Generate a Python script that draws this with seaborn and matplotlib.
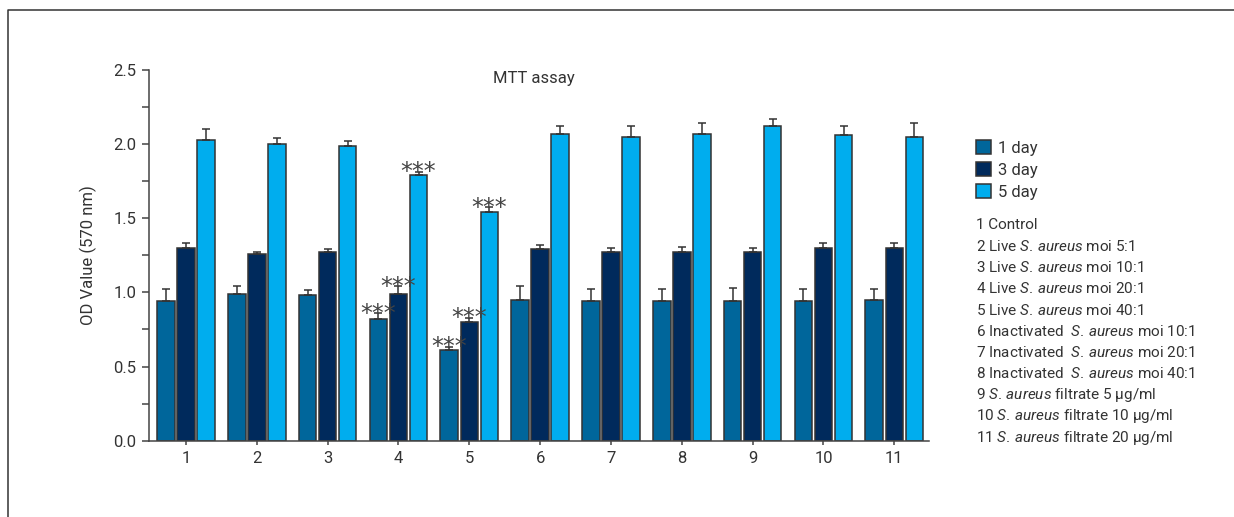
import numpy as np
import pandas as pd
import seaborn as sns
import matplotlib.pyplot as plt
from matplotlib.lines import Line2D
from matplotlib.ticker import MultipleLocator

# ---- data -------------------------------------------------------------
groups = ["1", "2", "3", "4", "5", "6", "7", "8", "9", "10", "11"]
days = ["1 day", "3 day", "5 day"]

day1 = [0.94, 0.99, 0.98, 0.82, 0.61, 0.95, 0.94, 0.94, 0.94, 0.94, 0.95]
day3 = [1.30, 1.26, 1.27, 0.99, 0.80, 1.29, 1.27, 1.27, 1.27, 1.30, 1.30]
day5 = [2.03, 2.00, 1.99, 1.79, 1.54, 2.07, 2.05, 2.07, 2.12, 2.06, 2.05]

err1 = [0.08, 0.05, 0.035, 0.04, 0.025, 0.09, 0.08, 0.08, 0.09, 0.08, 0.07]
err3 = [0.03, 0.015, 0.02, 0.05, 0.03, 0.03, 0.03, 0.035, 0.027, 0.03, 0.03]
err5 = [0.075, 0.04, 0.03, 0.025, 0.035, 0.05, 0.075, 0.075, 0.047, 0.063, 0.094]

# groups flagged as significantly different (***), per series
sig1 = [False, False, False, True, True, False, False, False, False, False, False]
sig3 = [False, False, False, True, True, False, False, False, False, False, False]
sig5 = [False, False, False, True, True, False, False, False, False, False, False]

group_names = [
    "1 Control",
    r"2 Live $\mathit{S.\,aureus}$ moi 5:1",
    r"3 Live $\mathit{S.\,aureus}$ moi 10:1",
    r"4 Live $\mathit{S.\,aureus}$ moi 20:1",
    r"5 Live $\mathit{S.\,aureus}$ moi 40:1",
    r"6 Inactivated  $\mathit{S.\,aureus}$ moi 10:1",
    r"7 Inactivated  $\mathit{S.\,aureus}$ moi 20:1",
    r"8 Inactivated  $\mathit{S.\,aureus}$ moi 40:1",
    r"9 $\mathit{S.\,aureus}$ filtrate 5 µg/ml",
    r"10 $\mathit{S.\,aureus}$ filtrate 10 µg/ml",
    r"11 $\mathit{S.\,aureus}$ filtrate 20 µg/ml",
]

colors = ["#00669b", "#002a5c", "#00adee"]
ink = "#333333"
FS = 11

# ---- style --------------------------------------------------------------
sns.set_theme(style="ticks")
plt.rcParams["font.family"] = ["Roboto", "DejaVu Sans"]
plt.rcParams["mathtext.fontset"] = "custom"
plt.rcParams["mathtext.rm"] = "Roboto"
plt.rcParams["mathtext.it"] = "Roboto:italic"

values = [day1, day3, day5]
errors = [err1, err3, err5]
flags = [sig1, sig3, sig5]

df = pd.DataFrame({
    "group": np.tile(groups, len(days)),
    "day": np.repeat(days, len(groups)),
    "value": np.concatenate(values),
})

W, H = 1234, 517
fig = plt.figure(figsize=(W / 100, H / 100), dpi=100)
ax = fig.add_axes([149.3 / W, 1 - 440.7 / H, (929 - 149.3) / W, (440.7 - 70) / H])

sns.barplot(data=df, x="group", y="value", hue="day", order=groups,
            hue_order=days, palette=colors, saturation=1, width=0.85,
            gap=0.125, edgecolor=ink, linewidth=1.1, errorbar=None, ax=ax)

# upper-only error bars and significance marks on top of each bar
for cont, errs, sig in zip(ax.containers, errors, flags):
    xs = np.array([b.get_x() + b.get_width() / 2 for b in cont])
    tops = np.array([b.get_height() for b in cont])
    errs = np.asarray(errs)
    ax.errorbar(xs, tops, yerr=[np.zeros_like(errs), errs], fmt="none",
                ecolor=ink, elinewidth=1.1, capsize=2.6, capthick=1.1,
                zorder=1)
    for x, t, e, s in zip(xs, tops, errs, sig):
        if s:
            ax.annotate("***", (x, t + e), xytext=(0, -5.5),
                        textcoords="offset points", ha="center",
                        va="baseline", fontsize=17, color="#444444",
                        family="DejaVu Sans", zorder=5)

ax.set_xlim(-0.518, 10.49)
ax.set_ylim(0, 2.5)
ax.yaxis.set_major_locator(MultipleLocator(0.5))
ax.yaxis.set_minor_locator(MultipleLocator(0.25))
ax.set_yticks(np.arange(0, 2.51, 0.5))
ax.set_yticklabels([f"{v:.1f}" for v in np.arange(0, 2.51, 0.5)])
ax.set_xlabel("")
ax.set_ylabel("")
sns.despine(ax=ax)
for sp in ("left", "bottom"):
    ax.spines[sp].set_color("#444444")
    ax.spines[sp].set_linewidth(1.1)
ax.tick_params(axis="y", which="both", length=4.8, width=1.1,
               color="#444444", labelsize=FS + 1, labelcolor=ink, pad=4.5)
ax.tick_params(axis="x", length=3.2, width=1.1, color="#444444",
               labelsize=FS + 1, labelcolor=ink, pad=4)

# legend for the series
handles, labels = ax.get_legend_handles_labels()
ax.legend(handles, labels, loc="upper left",
          bbox_to_anchor=(976 / W, 1 - 140 / H), bbox_transform=fig.transFigure,
          frameon=False, fontsize=FS + 1, handlelength=0.9, handleheight=0.9,
          handletextpad=0.45, labelspacing=0.38, borderpad=0,
          borderaxespad=0, labelcolor=ink)

# group key
for i, name in enumerate(group_names):
    fig.text(976.5 / W, 1 - (225 + i * 21.27) / H, name, ha="left",
             va="center", fontsize=FS, color=ink)

fig.text(534 / W, 1 - 78 / H, "MTT assay", ha="center", va="center",
         fontsize=FS + 1, color=ink)
fig.text(88 / W, 1 - 255 / H, "OD Value (570 nm)", ha="center",
         va="center", rotation=90, fontsize=FS + 1, color=ink)

# panel frame
fig.add_artist(Line2D([8 / W, 8 / W, 1], [0, 1 - 10.3 / H, 1 - 10.3 / H],
                      transform=fig.transFigure, color=ink, lw=1.1))

fig.savefig("out.png", dpi=100)
